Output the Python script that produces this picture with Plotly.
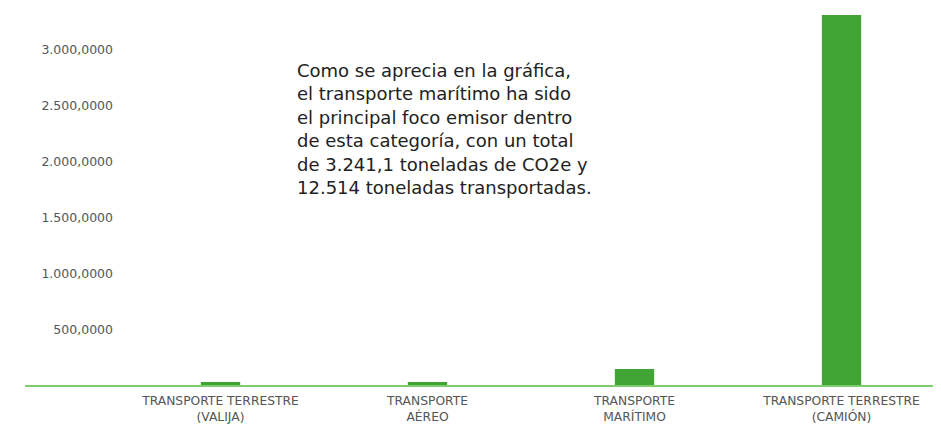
import plotly.graph_objects as go

categories = ["TRANSPORTE TERRESTRE<br>(VALIJA)", "TRANSPORTE<br>AÉREO",
              "TRANSPORTE<br>MARÍTIMO", "TRANSPORTE TERRESTRE<br>(CAMIÓN)"]
values = [36000, 35000, 152000, 3312000]
tick_vals = [500000, 1000000, 1500000, 2000000, 2500000, 3000000]
tick_text = ["500,0000", "1.000,0000", "1.500,0000", "2.000,0000", "2.500,0000", "3.000,0000"]
note_lines = ["Como se aprecia en la gráfica,",
              "el transporte marítimo ha sido",
              "el principal foco emisor dentro",
              "de esta categoría, con un total",
              "de 3.241,1 toneladas de CO2e y",
              "12.514 toneladas transportadas."]

L, T, W, H = 109, 0, 933, 417
PW = W - L
PH = 378

fig = go.Figure(go.Bar(x=list(range(len(categories))), y=values,
                       marker=dict(color="#40a535", line=dict(width=0)),
                       width=0.19))

fig.update_layout(
    width=W, height=H,
    margin=dict(l=L, r=0, t=T, b=H - PH, autoexpand=False),
    paper_bgcolor="white", plot_bgcolor="white",
    showlegend=False,
    font=dict(family="DejaVu Sans", color="#555555"),
    xaxis=dict(range=[-0.5, -0.5 + PW / 207], tickmode="array",
               tickvals=list(range(len(categories))), ticktext=categories,
               showgrid=False, zeroline=False, showline=False, ticks="",
               ticklabelstandoff=6,
               tickfont=dict(family="DejaVu Sans", size=12.3, color="#555555")),
    yaxis=dict(range=[0, PH / 112 * 1e6], tickmode="array", tickvals=tick_vals,
               ticktext=tick_text, showgrid=False, zeroline=False,
               showline=False, ticks="", ticklabelstandoff=3,
               tickfont=dict(family="DejaVu Sans", size=12.5, color="#555555")),
)

# baseline extending left beyond the plot area
fig.add_shape(type="line", xref="paper", yref="paper",
              x0=(17 - L) / PW, x1=1.0, y0=0, y1=0,
              line=dict(color="#7dcc6e", width=2))

fig.add_annotation(xref="paper", yref="paper", x=(287 - L) / PW, y=1 - 50 / PH,
                   xanchor="left", yanchor="top", align="left", showarrow=False,
                   text="<br>".join(note_lines),
                   font=dict(family="DejaVu Sans", size=18, color="#222222"))

fig.write_html("out.html", post_script="document.body.style.overflow='hidden';")
